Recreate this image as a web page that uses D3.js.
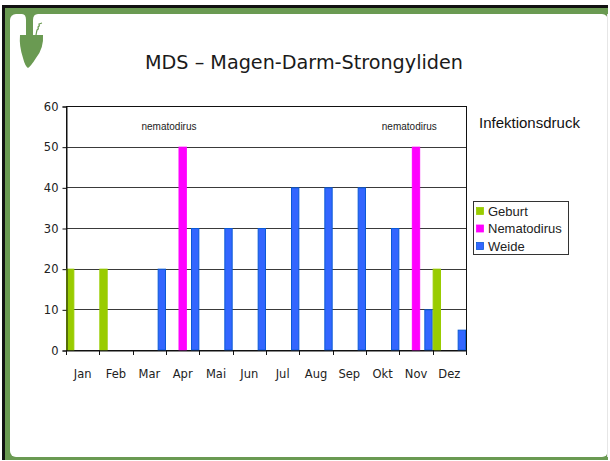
<!DOCTYPE html>
<html>
<head>
<meta charset="utf-8">
<script src="https://cdn.jsdelivr.net/npm/d3@7"></script>
<style>
  body { margin: 0; background: #fff; }
  svg { display: block; }
</style>
</head>
<body>
<script>
// Chart data
const months = ["Jan", "Feb", "Mar", "Apr", "Mai", "Jun", "Jul", "Aug", "Sep", "Okt", "Nov", "Dez"];
const seriesNames = ["Geburt", "Nematodirus", "Weide"];
const geburt = [20, 20, 0, 0, 0, 0, 0, 0, 0, 0, 0, 20];
const nematodirus = [0, 0, 0, 50, 0, 0, 0, 0, 0, 0, 50, 0];
const weide = [0, 0, 20, 30, 30, 30, 40, 40, 40, 30, 10, 5];
const yTicks = [0, 10, 20, 30, 40, 50, 60];
const notes = [["Apr", "nematodirus"], ["Nov", "nematodirus"]];

const WIDTH = 610, HEIGHT = 461;
const GREEN = "#6a9a52";
const colors = { Geburt: "#99cc00", Nematodirus: "#ff00ff", Weide: "#3366ff" };
const strokes = { Geburt: "#99cc00", Nematodirus: "#ff00ff", Weide: "#0a5ad6" };

const svg = d3.select("body").append("svg").attr("width", WIDTH).attr("height", HEIGHT);

// Slide frame: dark edge on top and left, green band, white slide
svg.append("rect").attr("x", 2).attr("y", 5).attr("width", 606).attr("height", 455).attr("fill", "#111");
svg.append("rect").attr("x", 5).attr("y", 8).attr("width", 603).attr("height", 452).attr("fill", GREEN);
svg.append("rect").attr("x", 10).attr("y", 14).attr("width", 598).attr("height", 443).attr("rx", 6).attr("fill", "#fff");
svg.append("line").attr("x1", 607.5).attr("x2", 607.5).attr("y1", 14).attr("y2", 457).attr("stroke", "#e6e6e6");

// Logo: stem from the top band and a trowel blade
svg.append("path").attr("fill", GREEN)
  .attr("d", "M22,14 Q26,14 26,20 L26,35 L33,35 L33,20 Q33,14 38,14 Z");
svg.append("path").attr("fill", GREEN)
  .attr("d", "M20,35 L43,35 Q44,48 36,58 Q31,66 28,68 Q25,66 23,58 Q19,46 20,35 Z");
svg.append("path").attr("fill", "none").attr("stroke", GREEN).attr("stroke-width", 1.2)
  .attr("d", "M36,35 L37,30 Q39,29 38,27 Q40,26 39,24 L42,23");

// Title
svg.append("text").attr("x", 304).attr("y", 69).attr("text-anchor", "middle")
  .attr("font-family", "DejaVu Sans").attr("font-size", 19).attr("fill", "#1a1a1a")
  .attr("textLength", 318).attr("lengthAdjust", "spacingAndGlyphs")
  .text("MDS – Magen-Darm-Strongyliden");

// Scales
const x = d3.scaleBand().domain(months).range([66, 466]).paddingInner(0).paddingOuter(0);
const xs = d3.scaleBand().domain(seriesNames).range([0, x.bandwidth()]).paddingInner(1 / 3).paddingOuter(0);
const y = d3.scaleLinear().domain([0, 60]).range([350, 106]);

// Gridlines
svg.append("g").selectAll("line").data(yTicks.filter(d => d > 0 && d < 60)).join("line")
  .attr("x1", 66).attr("x2", 466)
  .attr("y1", d => Math.round(y(d)) + 0.5).attr("y2", d => Math.round(y(d)) + 0.5)
  .attr("stroke", "#3a3a3a").attr("stroke-width", 1);

// Plot area border
svg.append("rect").attr("x", 66.5).attr("y", Math.round(y(60)) + 0.5)
  .attr("width", 400).attr("height", y(0) - y(60))
  .attr("fill", "none").attr("stroke", "#111");

// Bars
const rows = [];
months.forEach((m, i) => {
  rows.push({ month: m, series: "Geburt", value: geburt[i] });
  rows.push({ month: m, series: "Nematodirus", value: nematodirus[i] });
  rows.push({ month: m, series: "Weide", value: weide[i] });
});
svg.append("g").selectAll("rect").data(rows.filter(d => d.value > 0)).join("rect")
  .attr("x", d => x(d.month) + xs(d.series) + 0.5)
  .attr("y", d => y(d.value) + 0.5)
  .attr("width", xs.bandwidth() - 1)
  .attr("height", d => y(0) - y(d.value) - 0.5)
  .attr("fill", d => colors[d.series])
  .attr("stroke", d => strokes[d.series]).attr("stroke-width", 1);

// Y axis
const yAxis = svg.append("g").attr("transform", "translate(66.5,0.5)")
  .call(d3.axisLeft(y).tickValues(yTicks).tickSize(4).tickPadding(4));
yAxis.select(".domain").attr("stroke", "#111");
yAxis.selectAll(".tick line").attr("stroke", "#111");
yAxis.selectAll("text").attr("font-family", "DejaVu Sans").attr("font-size", 11.5).attr("fill", "#222");

// X axis
const xAxis = svg.append("g").attr("transform", `translate(0,${Math.round(y(0)) + 0.5})`)
  .call(d3.axisBottom(x).tickSize(0).tickPadding(19));
xAxis.select(".domain").attr("stroke", "#111");
xAxis.selectAll("text").attr("font-family", "DejaVu Sans").attr("font-size", 11.5).attr("fill", "#222");
svg.append("g").selectAll("line").data(months.map(m => x(m)).concat([x.range()[1]])).join("line")
  .attr("x1", d => Math.round(d) + 0.5).attr("x2", d => Math.round(d) + 0.5)
  .attr("y1", Math.round(y(0))).attr("y2", Math.round(y(0)) + 5)
  .attr("stroke", "#111");

// Annotations
const noteOffset = { Apr: 3, Nov: 10 };
svg.append("g").selectAll("text").data(notes).join("text")
  .attr("x", d => x(d[0]) + noteOffset[d[0]])
  .attr("y", y(54.2))
  .attr("text-anchor", "middle")
  .attr("font-family", "Liberation Sans").attr("font-size", 10).attr("fill", "#222")
  .text(d => d[1]);

svg.append("text").attr("x", 479).attr("y", 128)
  .attr("font-family", "Liberation Sans").attr("font-size", 15).attr("fill", "#111")
  .text("Infektionsdruck");

// Legend
const legend = svg.append("g").attr("transform", "translate(473.5,201.5)");
legend.append("rect").attr("width", 95).attr("height", 53).attr("fill", "#fff").attr("stroke", "#333");
const items = legend.selectAll("g").data(seriesNames).join("g")
  .attr("transform", (d, i) => `translate(3,${6 + i * 17.5})`);
items.append("rect").attr("width", 7).attr("height", 7)
  .attr("fill", d => colors[d]).attr("stroke", d => strokes[d]).attr("stroke-width", 0.8);
items.append("text").attr("x", 11.5).attr("y", 8)
  .attr("font-family", "Liberation Sans").attr("font-size", 13).attr("fill", "#222")
  .text(d => d);
</script>
</body>
</html>
